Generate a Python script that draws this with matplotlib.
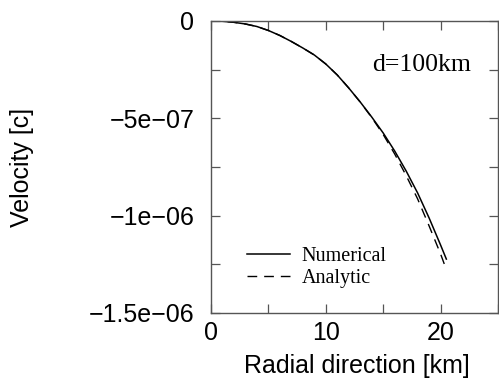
import matplotlib
matplotlib.use("Agg")
import matplotlib.pyplot as plt
from matplotlib.ticker import MultipleLocator, FixedLocator, FixedFormatter

# Data
num_x = [0, 1, 2, 3, 4, 5, 6, 7, 8, 9, 10, 11, 12, 13, 14, 15, 16, 17, 18, 19, 20, 20.5]
num_y = [0, -1.5e-9, -6.7e-9, -1.54e-8, -2.83e-8, -4.88e-8, -7.45e-8, -1.053e-7,
         -1.387e-7, -1.747e-7, -2.209e-7, -2.774e-7, -3.442e-7, -4.161e-7, -4.932e-7,
         -5.753e-7, -6.678e-7, -7.706e-7, -8.836e-7, -1.012e-6, -1.151e-6, -1.223e-6]
ana_x = [0, 1, 2, 3, 4, 5, 6, 7, 8, 9, 10, 11, 12, 13, 14, 15, 16, 17, 18, 19, 20, 20.4]
ana_y = [0, -1.5e-9, -6.7e-9, -1.54e-8, -2.83e-8, -4.88e-8, -7.45e-8, -1.053e-7,
         -1.387e-7, -1.747e-7, -2.209e-7, -2.774e-7, -3.442e-7, -4.165e-7, -4.957e-7,
         -5.830e-7, -6.830e-7, -7.940e-7, -9.140e-7, -1.053e-6, -1.197e-6, -1.261e-6]

x_ticks = [0, 10, 20]
x_ticklabels = ["0", "10", "20"]
y_ticks = [-1.5e-6, -1e-6, -5e-7, 0]
y_ticklabels = ["\u22121.5e\u221206", "\u22121e\u221206", "\u22125e\u221207", "0"]

fig = plt.figure(figsize=(4.99, 3.84), dpi=100)
ax = fig.add_axes([211/499, 71/384, 287/499, 292/384])

ax.plot(num_x, num_y, color="black", lw=1.1, label="Numerical")
ax.plot(ana_x, ana_y, color="black", lw=1.0, linestyle=(0, (7, 5)), label="Analytic")

ax.set_xlim(0, 25)
ax.set_ylim(-1.5e-6, 0)

ax.xaxis.set_major_locator(FixedLocator(x_ticks))
ax.xaxis.set_major_formatter(FixedFormatter(x_ticklabels))
ax.xaxis.set_minor_locator(MultipleLocator(5))
ax.yaxis.set_major_locator(FixedLocator(y_ticks))
ax.yaxis.set_major_formatter(FixedFormatter(y_ticklabels))
ax.yaxis.set_minor_locator(MultipleLocator(2.5e-7))

for s in ax.spines.values():
    s.set_color("#555555")
    s.set_linewidth(1.0)

ax.tick_params(which="both", direction="in", top=True, right=True,
               length=6.5, width=0.9, color="#555555")
ax.tick_params(axis="y", which="major", pad=12, labelsize=18)
ax.tick_params(axis="x", which="major", pad=6, labelsize=18)
for lab in ax.get_xticklabels() + ax.get_yticklabels():
    lab.set_family("Liberation Sans")

ax.set_xlabel("Radial direction [km]", family="Liberation Sans", fontsize=18)
ax.set_ylabel("Velocity [c]", family="Liberation Sans", fontsize=18)
ax.xaxis.set_label_coords(0.51, -0.14)
ax.yaxis.set_label_coords(-0.617, 0.5)

ax.text(0.735, 0.829, "d=100km", transform=ax.transAxes, ha="center", va="baseline",
        family="Liberation Serif", fontsize=18.5)

leg = ax.legend(loc="center left", bbox_to_anchor=(0.124, 0.156), frameon=False,
                prop={"family": "Liberation Serif", "size": 14.5},
                handlelength=2.15, handletextpad=0.58, labelspacing=0.15,
                borderaxespad=0, borderpad=0)

fig.savefig("out.png", dpi=100)
